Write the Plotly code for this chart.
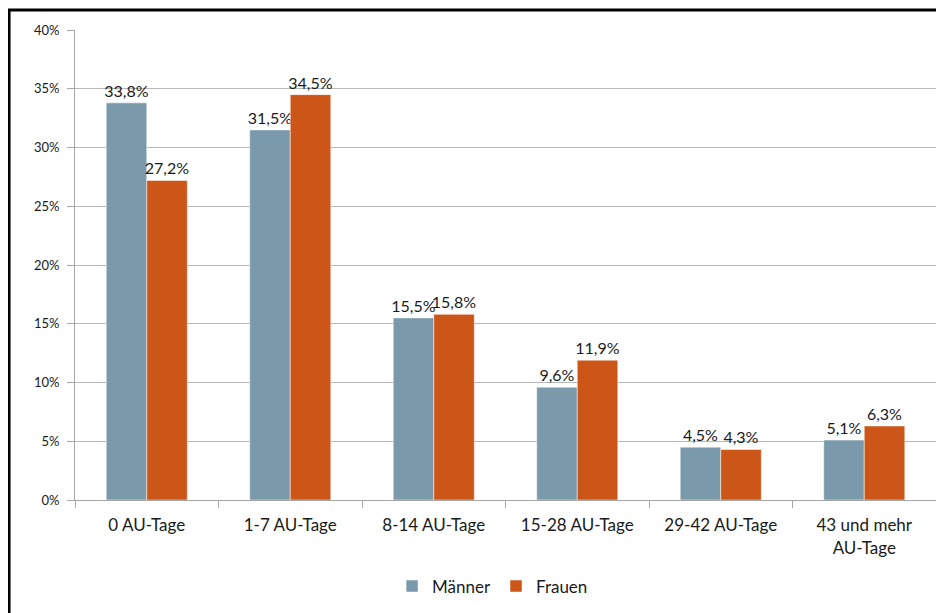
import plotly.graph_objects as go

categories = ["0 AU-Tage", "1-7 AU-Tage", "8-14 AU-Tage", "15-28 AU-Tage",
              "29-42 AU-Tage", "43 und mehr<br>AU-Tage"]
maenner = [0.338, 0.315, 0.155, 0.096, 0.045, 0.051]
frauen = [0.272, 0.345, 0.158, 0.119, 0.043, 0.063]

font = "Lato, Open Sans, sans-serif"

fig = go.Figure()
fig.add_trace(go.Bar(x=categories, y=maenner, name="Männer",
                     marker=dict(color="#7a9aab", line=dict(color="#ffffff", width=0.5)),
                     texttemplate="%{y:.1%}", textposition="outside",
                     textfont=dict(size=16, color="#1a1a1a"), constraintext="none",
                     cliponaxis=False))
fig.add_trace(go.Bar(x=categories, y=frauen, name="Frauen",
                     marker=dict(color="#cc5518", line=dict(color="#ffffff", width=0.5)),
                     texttemplate="%{y:.1%}", textposition="outside",
                     textfont=dict(size=16, color="#1a1a1a"), constraintext="none",
                     cliponaxis=False))

# the page puts the figure 8px in from the top left corner
fig.update_layout(
    width=936, height=605,
    margin=dict(l=67, r=8, t=22, b=110),
    paper_bgcolor="white", plot_bgcolor="white",
    separators=",.",
    barmode="group", bargap=0.435, bargroupgap=0,
    font=dict(family=font, color="#1a1a1a"),
    legend=dict(orientation="h", x=0.485, xanchor="center", y=-0.184, yanchor="middle",
                font=dict(size=17), itemwidth=30, traceorder="normal"),
    showlegend=True,
    shapes=[dict(type="rect", xref="paper", yref="paper",
                 x0=-0.0766, y0=-1.0, x1=1.5, y1=1.0424,
                 line=dict(color="black", width=3), layer="above")],
)

fig.update_yaxes(range=[0, 0.4], dtick=0.05, tickformat=".0%",
                 showgrid=True, gridcolor="#b8b8b8", gridwidth=1,
                 showline=True, linecolor="#a6a6a6", linewidth=1,
                 ticks="outside", ticklen=7, tickcolor="#a6a6a6", ticklabelstandoff=5,
                 tickfont=dict(size=13, color="#1a1a1a"), zeroline=False)
fig.update_xaxes(showline=True, linecolor="#a6a6a6", linewidth=1,
                 ticks="outside", ticklen=7, tickcolor="#a6a6a6", ticklabelstandoff=10,
                 tickson="boundaries", tickfont=dict(size=17, color="#1a1a1a"))

fig.write_html("out.html")
